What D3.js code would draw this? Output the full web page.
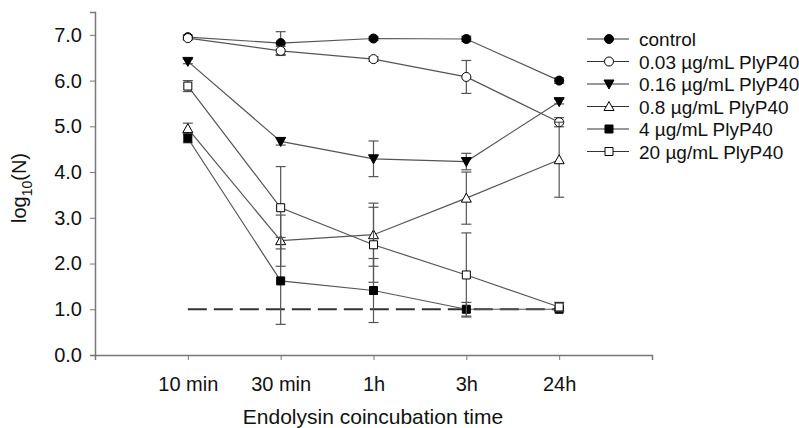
<!DOCTYPE html>
<html>
<head>
<meta charset="utf-8">
<script src="https://cdn.jsdelivr.net/npm/d3@7"></script>
<style>
  body { margin: 0; background: #fff; }
  svg text { font-family: Arial, "Liberation Sans", sans-serif; fill: #111; }
</style>
</head>
<body>
<svg id="chart" width="799" height="428"></svg>
<script>
// categories on the x axis
var times = ["10 min", "30 min", "1h", "3h", "24h"];

// log10(N) means and error (+/-) per series
var control    = [6.95, 6.82, 6.92, 6.91, 6.00];
var controlErr = [0.05, 0.25, 0.04, 0.06, 0.06];
var ply003     = [6.93, 6.65, 6.47, 6.08, 5.09];
var ply003Err  = [0.04, 0.10, 0.05, 0.36, 0.10];
var ply016     = [6.42, 4.67, 4.29, 4.23, 5.54];
var ply016Err  = [0.05, 0.08, 0.39, 0.18, 0.05];
var ply08      = [4.95, 2.50, 2.63, 3.43, 4.27];
var ply08Err   = [0.12, 0.56, 0.69, 0.57, 0.82];
var ply4       = [4.74, 1.62, 1.41, 1.00, 1.00];
var ply4Err    = [0.10, 0.95, 0.70, 0.15, 0.03];
var ply20      = [5.88, 3.22, 2.41, 1.75, 1.05];
var ply20Err   = [0.12, 0.90, 0.82, 0.92, 0.10];

var seriesNames = ["control", "0.03 \u00b5g/mL PlyP40", "0.16 \u00b5g/mL PlyP40",
                   "0.8 \u00b5g/mL PlyP40", "4 \u00b5g/mL PlyP40", "20 \u00b5g/mL PlyP40"];
var yTicks = [0, 1, 2, 3, 4, 5, 6, 7];
var detectionLimit = 1.0;

var series = [
  {name: seriesNames[0], vals: control, err: controlErr, shape: "circle",   fill: "#000"},
  {name: seriesNames[1], vals: ply003,  err: ply003Err,  shape: "circle",   fill: "#fff"},
  {name: seriesNames[2], vals: ply016,  err: ply016Err,  shape: "triDown",  fill: "#000"},
  {name: seriesNames[3], vals: ply08,   err: ply08Err,   shape: "triUp",    fill: "#fff"},
  {name: seriesNames[4], vals: ply4,    err: ply4Err,    shape: "square",   fill: "#000"},
  {name: seriesNames[5], vals: ply20,   err: ply20Err,   shape: "square",   fill: "#fff"}
];

var svg = d3.select("#chart");

var x = d3.scaleLinear().domain([0, 6]).range([95, 652]);
var y = d3.scaleLinear().domain([0, 7.5]).range([355, 12]);

function GetSymbol(shape){
  switch (shape) {
    case "circle":
      return d3.symbol().type(d3.symbolCircle).size(64)();
    case "square":
      return d3.symbol().type(d3.symbolSquare).size(64)();
    case "triUp":
      return "M0,-5L5,4L-5,4Z";
    case "triDown":
      return "M0,5L5,-4L-5,-4Z";
    default:
      return d3.symbol().size(64)();
  }
}

// axes
var yAxis = d3.axisLeft(y).tickValues(yTicks).tickSize(5).tickPadding(8)
    .tickFormat(d3.format(".1f"));
var gy = svg.append("g").attr("transform", "translate(95,0)").call(yAxis);

var xAxis = d3.axisBottom(x).tickValues([1, 2, 3, 4, 5]).tickSize(5).tickPadding(17)
    .tickFormat(function(d) { return times[d - 1]; });
var gx = svg.append("g").attr("transform", "translate(0,355)").call(xAxis);

[gx, gy].forEach(function(g){
  g.select(".domain").attr("stroke", "#777").attr("stroke-width", 1.5);
  g.selectAll(".tick line").attr("stroke", "#777");
  g.selectAll("text").style("font-size", "20px").attr("fill", "#111");
});

// axis titles
svg.append("text")
    .attr("x", 373).attr("y", 424)
    .attr("text-anchor", "middle")
    .style("font-size", "21px")
    .text("Endolysin coincubation time");

var yt = svg.append("text")
    .attr("transform", "translate(26,188) rotate(-90)")
    .attr("text-anchor", "middle")
    .style("font-size", "20px");
yt.append("tspan").text("log");
yt.append("tspan").attr("dy", 6).style("font-size", "14px").text("10");
yt.append("tspan").attr("dy", -6).text("(N)");

// detection limit
svg.append("line")
    .attr("x1", x(1)).attr("x2", x(5))
    .attr("y1", y(detectionLimit)).attr("y2", y(detectionLimit))
    .attr("stroke", "#333").attr("stroke-width", 2)
    .attr("stroke-dasharray", "19,7");

var line = d3.line()
    .x(function(d, i) { return x(i + 1); })
    .y(function(d) { return y(d); });

series.forEach(function(s){
  var g = svg.append("g");
  // error bars
  s.vals.forEach(function(v, i){
    var cx = x(i + 1), top = y(v + s.err[i]), bot = y(v - s.err[i]);
    g.append("line").attr("x1", cx).attr("x2", cx).attr("y1", top).attr("y2", bot)
        .attr("stroke", "#555").attr("stroke-width", 1.2);
    [top, bot].forEach(function(yy){
      g.append("line").attr("x1", cx - 5).attr("x2", cx + 5).attr("y1", yy).attr("y2", yy)
          .attr("stroke", "#555").attr("stroke-width", 1.2);
    });
  });
  g.append("path")
      .datum(s.vals)
      .attr("d", line)
      .attr("fill", "none")
      .attr("stroke", "#555")
      .attr("stroke-width", 1.2);
  g.selectAll("path.pt")
      .data(s.vals)
      .enter().append("path")
      .attr("class", "pt")
      .attr("d", GetSymbol(s.shape))
      .attr("transform", function(d, i) { return "translate(" + x(i + 1) + "," + y(d) + ")"; })
      .attr("fill", s.fill)
      .attr("stroke", "#000")
      .attr("stroke-width", 1);
});

// legend
var legend = svg.append("g").attr("transform", "translate(587,39)");
series.forEach(function(s, i){
  var row = legend.append("g").attr("transform", "translate(0," + (i * 22.5) + ")");
  row.append("line").attr("x1", 0).attr("x2", 42).attr("y1", 0).attr("y2", 0)
      .attr("stroke", "#333").attr("stroke-width", 1.2);
  row.append("path").attr("d", GetSymbol(s.shape))
      .attr("transform", "translate(22,0)")
      .attr("fill", s.fill).attr("stroke", "#000");
  row.append("text").attr("x", 52).attr("y", 7)
      .style("font-size", "19px")
      .text(s.name);
});
</script>
</body>
</html>
